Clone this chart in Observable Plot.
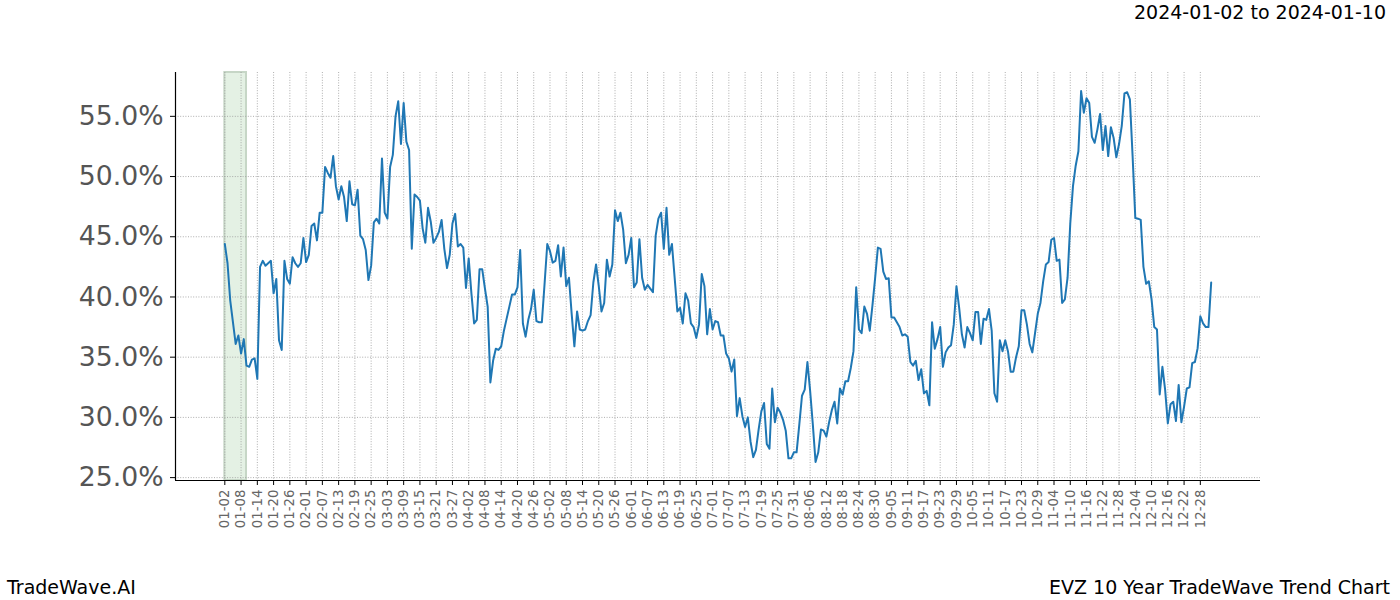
<!DOCTYPE html>
<html>
<head>
<meta charset="utf-8">
<script src="https://cdn.jsdelivr.net/npm/d3@7"></script>
<script src="https://cdn.jsdelivr.net/npm/@observablehq/plot@0.6"></script>
<style>
  body { margin: 0; background: white; }
  #wrap { position: relative; width: 1400px; height: 600px; font-family: "DejaVu Sans", sans-serif; }
  .note { position: absolute; font-size: 19px; color: #000; white-space: nowrap; line-height: 1; }
</style>
</head>
<body>
<div id="wrap">
  <div class="note" style="right:14px; top:3px;">2024-01-02 to 2024-01-10</div>
  <div class="note" style="left:7px; top:578px;">TradeWave.AI</div>
  <div class="note" style="right:10px; top:578px;">EVZ 10 Year TradeWave Trend Chart</div>
</div>
<script>
// days since the first date (01-02)
const days = [0,1,2,4,5,6,7,8,9,10,11,12,13,14,15,17,18,19,20,21,22,23,24,25,26,27,28,29,30,31,32,33,34,35,36,37,38,39,40,41,42,43,44,45,46,47,48,49,50,51,52,53,54,55,56,57,58,59,60,61,62,63,64,65,66,67,68,69,70,71,72,73,74,75,76,77,78,79,80,81,82,83,84,85,86,87,88,89,90,91,92,93,94,95,96,97,98,99,100,101,102,103,104,105,106,107,108,109,110,111,112,113,114,115,116,117,118,119,120,121,122,123,124,125,126,127,128,129,130,131,132,133,134,135,136,137,138,139,140,141,142,143,144,145,146,147,148,149,150,151,152,153,154,155,156,157,158,159,160,161,162,163,164,165,166,167,168,169,170,171,172,173,174,175,176,177,178,179,180,181,182,183,184,185,186,187,188,189,190,191,192,193,194,195,196,197,198,199,200,201,202,203,204,205,206,207,208,209,210,211,212,213,214,215,216,217,218,219,220,221,222,223,224,225,226,227,228,229,230,231,232,233,234,235,236,237,238,239,240,241,242,243,244,245,246,247,248,249,250,251,252,253,254,255,256,257,258,259,260,261,262,263,264,265,266,267,268,269,270,271,272,273,274,275,276,277,278,279,280,281,282,283,284,285,286,287,288,289,290,291,292,293,294,295,296,297,298,299,300,301,302,303,304,305,306,307,308,309,310,311,312,313,314,315,316,317,318,319,320,321,322,323,324,325,326,327,328,329,330,331,332,333,334,335,336,337,338,339,340,341,342,343,344,345,346,347,348,349,350,351,352,353,354,355,356,357,358,359,360,361,362,363,364];

// EVZ trend values (%)
const evz = [44.4,42.8,39.7,36.1,36.8,35.3,36.5,34.3,34.2,34.8,34.9,33.2,42.5,43.0,42.6,43.0,40.3,41.5,36.4,35.6,43.0,41.5,41.1,43.3,42.8,42.5,42.8,44.9,42.9,43.5,45.9,46.1,44.7,47.0,47.0,50.8,50.3,49.9,51.7,49.2,48.1,49.2,48.3,46.3,49.6,47.7,47.6,48.9,45.1,44.8,43.9,41.4,42.6,46.2,46.5,46.1,51.5,47.0,46.5,50.8,51.8,55.0,56.25,52.7,56.1,52.9,52.2,44.0,48.5,48.3,48.0,45.7,44.5,47.4,46.25,44.5,44.9,45.4,46.4,44.0,42.4,43.5,46.1,46.9,44.2,44.4,44.1,40.75,43.2,40.3,37.8,38.1,42.3,42.3,40.7,39.2,32.9,34.7,35.7,35.6,35.9,37.2,38.2,39.2,40.2,40.2,40.8,43.9,37.8,36.7,38.1,39.0,40.6,38.0,37.9,37.9,41.1,44.4,43.8,42.85,43.0,44.3,41.7,44.1,40.9,41.6,38.6,35.9,38.8,37.3,37.2,37.3,38.0,38.5,41.2,42.7,40.9,38.8,39.5,43.1,41.7,42.7,47.2,46.3,47.0,45.6,42.8,43.5,44.9,40.8,41.2,44.8,41.6,40.6,41.0,40.7,40.4,45.1,46.5,47.0,44.0,47.4,43.5,44.4,41.6,38.8,39.1,37.8,40.3,39.7,37.8,37.5,36.6,37.7,41.9,40.9,36.9,39.0,37.3,38.0,37.9,36.8,36.8,35.3,34.9,33.8,34.8,30.1,31.6,30.1,29.2,30.0,28.0,26.7,27.3,29.0,30.5,31.2,27.8,27.4,32.4,29.6,30.8,30.4,29.8,28.9,26.6,26.6,27.1,27.1,29.4,31.8,32.3,34.6,32.2,29.4,26.3,27.1,29.0,28.9,28.4,29.6,30.6,31.3,29.5,32.4,31.9,33.0,33.0,34.1,35.5,40.8,37.3,37.0,39.2,38.6,37.2,39.3,41.6,44.1,44.0,42.1,41.5,41.55,38.3,38.3,37.9,37.5,36.8,36.9,36.7,34.6,34.3,34.7,33.1,34.0,32.0,32.2,31.0,37.9,35.7,36.5,37.5,34.2,35.4,35.8,36.0,37.7,40.9,39.1,36.9,35.8,37.5,37.0,36.4,38.75,38.75,36.1,38.2,38.1,39.0,37.2,32.0,31.3,36.4,35.5,36.4,35.5,33.8,33.8,35.0,35.9,38.9,38.9,37.7,36.1,35.4,37.0,38.6,39.5,41.3,42.7,42.9,44.75,44.9,43.0,43.1,39.5,39.8,41.6,46.1,49.2,50.9,52.1,57.1,55.3,56.5,56.1,53.3,52.8,53.9,55.2,52.2,54.2,51.7,54.1,53.2,51.6,52.7,54.2,56.9,57.0,56.4,51.7,46.55,46.5,46.4,42.5,41.1,41.3,39.8,37.5,37.3,31.9,34.2,32.3,29.5,31.1,31.3,29.7,32.7,29.6,30.9,32.4,32.5,34.5,34.6,35.75,38.4,37.8,37.5,37.5,41.2];

const startDate = "2023-01-02";
const tickStepDays = 6;
const tickCount = 61;
const yTicks = [25, 30, 35, 40, 45, 50, 55];
const bandDays = [0, 8];

const start = d3.timeParse("%Y-%m-%d")(startDate);
const data = days.map((d, i) => ({date: d3.timeDay.offset(start, d), v: evz[i]}));
const xTicks = d3.range(tickCount).map(i => d3.timeDay.offset(start, i * tickStepDays));
const band = [{a: d3.timeDay.offset(start, bandDays[0]), b: d3.timeDay.offset(start, bandDays[1])}];

// matplotlib-like 5% margins
const [dx0, dx1] = d3.extent(data, d => d.date);
const padX = (dx1 - dx0) * 0.05;
const xDomain = [new Date(+dx0 - padX), new Date(+dx1 + padX)];
const [vy0, vy1] = d3.extent(data, d => d.v);
const padY = (vy1 - vy0) * 0.05;
const yDomain = [vy0 - padY, vy1 + padY];

const gridStyle = {stroke: "#999999", strokeOpacity: 1, strokeWidth: 0.8, strokeDasharray: "1,1.6"};

const chart = Plot.plot({
  width: 1400,
  height: 600,
  marginLeft: 175,
  marginRight: 140,
  marginTop: 72,
  marginBottom: 120,
  style: {fontFamily: "DejaVu Sans", background: "white", overflow: "visible"},
  x: {type: "time", domain: xDomain},
  y: {domain: yDomain},
  marks: [
    Plot.rect(band, {x1: "a", x2: "b", fill: "#e4f1e4", stroke: "#c6d6c6", strokeWidth: 2}),
    Plot.gridX(xTicks, gridStyle),
    Plot.gridY(yTicks, gridStyle),
    Plot.line(data, {x: "date", y: "v", stroke: "#1f77b4", strokeWidth: 2}),
    Plot.ruleX([xDomain[0]], {stroke: "black", strokeWidth: 1.2}),
    Plot.ruleY([yDomain[0]], {stroke: "black", strokeWidth: 1.2}),
    Plot.axisX(xTicks, {
      tickFormat: d3.timeFormat("%m-%d"),
      tickRotate: -90, tickSize: 5, tickPadding: 4,
      fontSize: 13.3, fill: "#666", stroke: "black", label: null
    }),
    Plot.axisY(yTicks, {
      tickFormat: d => d.toFixed(1) + "%",
      tickSize: 5, tickPadding: 7,
      fontSize: 26.7, fill: "#555", stroke: "black", label: null
    })
  ]
});
chart.style.position = "absolute";
chart.style.left = "0px";
chart.style.top = "0px";
document.getElementById("wrap").prepend(chart);
</script>
</body>
</html>
